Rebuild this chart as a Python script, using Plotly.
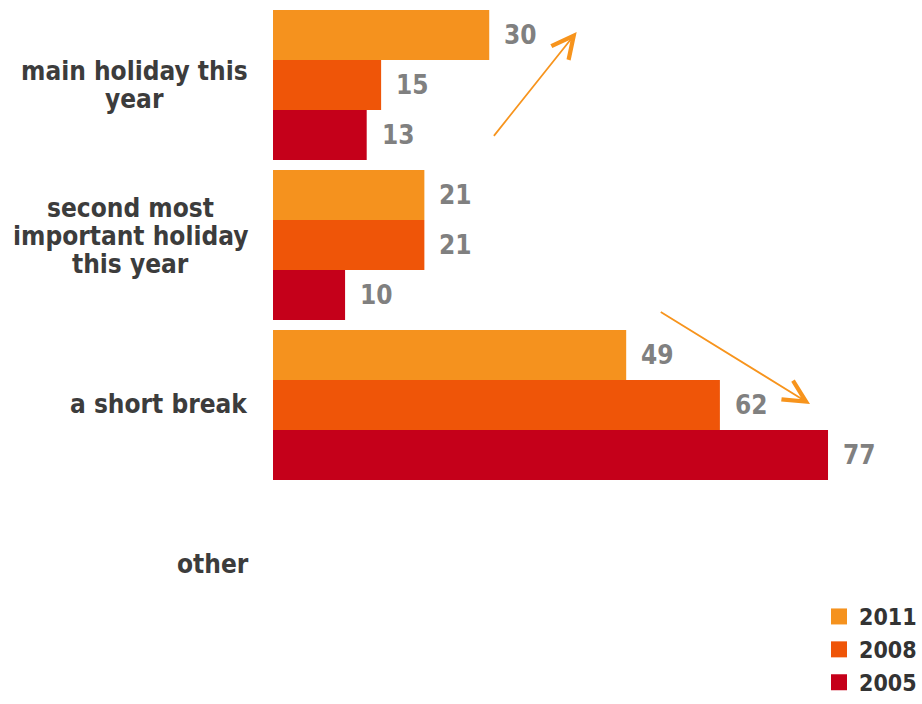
import plotly.graph_objects as go

# ---- data -------------------------------------------------------------
categories = [
    "main holiday this year",
    "second most important holiday this year",
    "a short break",
    "other",
]
years = ["2011", "2008", "2005"]
values_2011 = [30, 21, 49, None]
values_2008 = [15, 21, 62, None]
values_2005 = [13, 10, 77, None]

# wrapped category labels, one entry per drawn line
label_lines = [
    ["main holiday this", "year"],
    ["second most", "important holiday", "this year"],
    ["a short break"],
    ["other"],
]

# ---- style ------------------------------------------------------------
series = [values_2011, values_2008, values_2005]
colors = ["#F5921E", "#EF5508", "#C5001A"]
arrow_color = "#F7941D"
FONT = "DejaVu Sans Condensed, DejaVu Sans, sans-serif"
BARGAP = 0.0625

W, H = 922, 704
M_LEFT, M_TOP = 273, 5
PX_PER_UNIT = 7.208      # horizontal scale of the value axis
PX_PER_CAT = 160         # vertical size of one category slot

# pixel layout of the label column (line centres, vertical offsets)
label_centers = [134, 130, 159, 213]
label_offsets = [[-14, 14], [-37, -9, 19], [-1], [-1]]

ypos = list(range(len(categories)))

fig = go.Figure()

for name, vals, col in zip(years, series, colors):
    fig.add_trace(go.Bar(
        x=vals, y=ypos, orientation="h", name=name,
        marker=dict(color=col, line=dict(width=0)),
        showlegend=False, hoverinfo="x+name",
    ))

# legend-only entries with larger square swatches
for name, col in zip(years, colors):
    fig.add_trace(go.Scatter(
        x=[None], y=[None], mode="markers", name=name,
        marker=dict(symbol="square", size=16, color=col),
    ))

annotations = []

# value labels next to each bar
n = len(series)
slot = (1 - BARGAP) / n
for j, vals in enumerate(series):
    for i, v in enumerate(vals):
        if v is None:
            continue
        annotations.append(dict(
            x=v, y=i + (j - (n - 1) / 2) * slot, xref="x", yref="y",
            text=str(v), showarrow=False, xanchor="left", yanchor="middle",
            xshift=13,
            font=dict(family=FONT, size=26, color="#808080", weight="bold"),
        ))

# category labels: centred lines, tight line spacing
for i, lines in enumerate(label_lines):
    for k, line in enumerate(lines):
        annotations.append(dict(
            x=0, y=i, xref="paper", yref="y",
            text=line, showarrow=False, xanchor="center", yanchor="middle",
            xshift=label_centers[i] - M_LEFT,
            yshift=-label_offsets[i][k],
            font=dict(family=FONT, size=26, color="#3C3C3C", weight="bold"),
        ))

# trend arrows
for (x0, y0, x1, y1) in [(30.48, 0.327, 42.13, -0.331), (53.59, 1.4125, 74.50, 1.994)]:
    annotations.append(dict(
        x=x1, y=y1, ax=x0, ay=y0, xref="x", yref="y", axref="x", ayref="y",
        text="", showarrow=True, arrowhead=5, arrowsize=2.4, arrowwidth=1.8,
        arrowcolor=arrow_color, standoff=0,
    ))

# plotting area runs to the right and bottom edges so the legend sits inside it
x_max = (W - M_LEFT) / PX_PER_UNIT
y_bottom = -0.5 + (H - M_TOP) / PX_PER_CAT

fig.update_layout(
    width=W, height=H,
    margin=dict(l=M_LEFT, r=0, t=M_TOP, b=0),
    paper_bgcolor="white", plot_bgcolor="white",
    barmode="group", bargap=BARGAP, bargroupgap=0,
    xaxis=dict(range=[0, x_max], visible=False, fixedrange=True),
    yaxis=dict(range=[y_bottom, -0.5], visible=False, fixedrange=True),
    legend=dict(
        x=1, y=0, xanchor="right", yanchor="bottom",
        font=dict(family=FONT, size=23, color="#333333", weight="bold"),
        itemwidth=30, tracegroupgap=0, bgcolor="rgba(0,0,0,0)",
    ),
    annotations=annotations,
)

fig.write_html("out.html")
